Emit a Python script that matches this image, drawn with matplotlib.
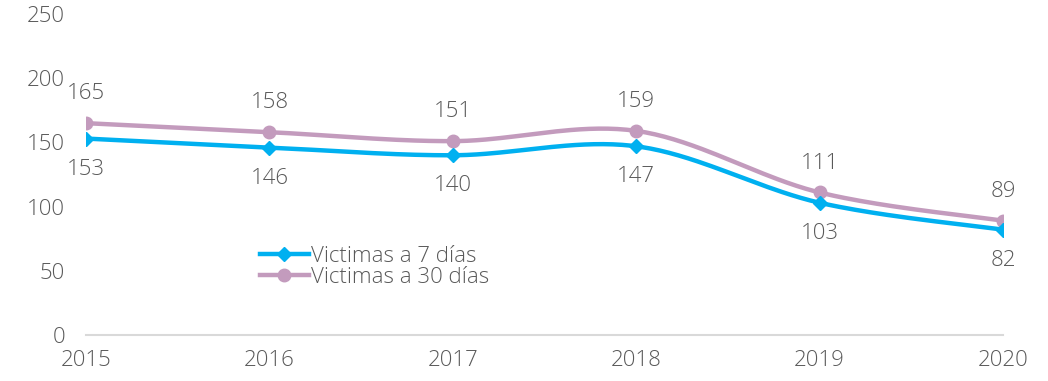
import numpy as np
import matplotlib.pyplot as plt

years = [2015, 2016, 2017, 2018, 2019, 2020]
victimas_7 = [153, 146, 140, 147, 103, 82]
victimas_30 = [165, 158, 151, 159, 111, 89]

plt.rcParams['font.family'] = ['Open Sans', 'DejaVu Sans']
plt.rcParams['font.weight'] = 'light'
txt = '#595959'
fs = 16


def smooth(x, y, n=40):
    # Excel-style smoothed line (Bezier through points)
    x = np.asarray(x, float)
    y = np.asarray(y, float)
    px, py = [], []
    for i in range(len(x) - 1):
        x0, y0 = (x[i - 1], y[i - 1]) if i > 0 else (x[i], y[i])
        x3, y3 = (x[i + 2], y[i + 2]) if i + 2 < len(x) else (x[i + 1], y[i + 1])
        c1x = x[i] + (x[i + 1] - x0) / 6
        c1y = y[i] + (y[i + 1] - y0) / 6
        c2x = x[i + 1] - (x3 - x[i]) / 6
        c2y = y[i + 1] - (y3 - y[i]) / 6
        t = np.linspace(0, 1, n)
        bx = (1-t)**3*x[i] + 3*(1-t)**2*t*c1x + 3*(1-t)*t**2*c2x + t**3*x[i+1]
        by = (1-t)**3*y[i] + 3*(1-t)**2*t*c1y + 3*(1-t)*t**2*c2y + t**3*y[i+1]
        px.extend(bx)
        py.extend(by)
    return px, py


fig = plt.figure(figsize=(10.48, 3.81), dpi=100)
ax = fig.add_axes([0.0821, 0.1207, 0.875, 0.8425])

blue = '#00B0F0'
purple = '#C39BBD'

sx, sy = smooth(years, victimas_30)
ax.plot(sx, sy, color=purple, lw=3.2, solid_capstyle='round', zorder=2)
ax.plot(years, victimas_30, 'o', color=purple, ms=9, zorder=3)
sx, sy = smooth(years, victimas_7)
ax.plot(sx, sy, color=blue, lw=3.2, solid_capstyle='round', zorder=4)
ax.plot(years, victimas_7, 'D', color=blue, ms=7, zorder=5)

# legend handles
ax.plot([], [], color=blue, lw=3.2, marker='D', ms=7, label='Victimas a 7 días')
ax.plot([], [], color=purple, lw=3.2, marker='o', ms=9, label='Victimas a 30 días')

for x, v in zip(years, victimas_30):
    ax.annotate(str(v), (x, v), xytext=(0, 21), textcoords='offset points',
                ha='center', va='center', fontsize=fs, color=txt)
for x, v in zip(years, victimas_7):
    ax.annotate(str(v), (x, v), xytext=(0, -22), textcoords='offset points',
                ha='center', va='center', fontsize=fs, color=txt)

ax.set_xlim(2015, 2020)
ax.set_ylim(0, 250)
ax.set_yticks(range(0, 251, 50))
ax.set_xticks(years)
ax.tick_params(axis='both', length=0, labelsize=fs, colors=txt)
ax.tick_params(axis='y', pad=15)
ax.tick_params(axis='x', pad=11)
for s in ['top', 'right', 'left']:
    ax.spines[s].set_visible(False)
ax.spines['bottom'].set_color('#D9D9D9')
ax.spines['bottom'].set_linewidth(1.5)

leg = ax.legend(loc='upper left', bbox_to_anchor=(0.18, 0.305), frameon=False,
                fontsize=fs, handlelength=2.2, handletextpad=0.1,
                labelspacing=0.0, borderaxespad=0)
for t in leg.get_texts():
    t.set_color(txt)

fig.savefig('out.png', dpi=100)
